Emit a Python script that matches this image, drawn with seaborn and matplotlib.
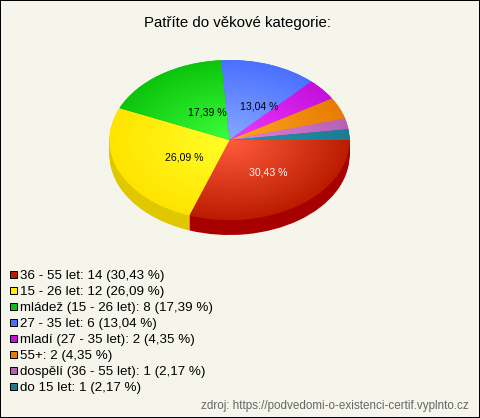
import matplotlib
matplotlib.use("Agg")
import matplotlib.pyplot as plt
from matplotlib.colors import LinearSegmentedColormap
from matplotlib.patches import Rectangle
import numpy as np
import seaborn as sns

labels = ["36 - 55 let", "15 - 26 let", "mládež (15 - 26 let)", "27 - 35 let",
          "mladí (27 - 35 let)", "55+", "dospělí (36 - 55 let)", "do 15 let"]
counts = [14, 12, 8, 6, 2, 2, 1, 1]
percents = ["30,43", "26,09", "17,39", "13,04", "4,35", "4,35", "2,17", "2,17"]

edge_colors = ["#bb1c00", "#ffe400", "#0cc40c", "#4a70ff", "#c410dc", "#e87c00", "#b860b4", "#1c7c94"]
centre_colors = ["#ff5c3c", "#ffff28", "#3cff3c", "#88a8ff", "#f038ff", "#ffa428", "#e084e0", "#2494ac"]
side_colors = ["#a80000", "#e0c800", "#0a9a0a", "#3858c8", "#9a0cb0", "#b86000", "#905090", "#146070"]
swatch_colors = ["#c01800", "#ffee00", "#10c010", "#4a70ff", "#c810d8", "#e87800", "#b860b0", "#1c7c90"]

sns.set_theme(style="white")
bg = "#f5f5ec"

W, H = 480, 418
CX, CY, RX, RY, DEPTH = 229.5, 140, 120, 80, 15

fig = plt.figure(figsize=(W / 100, H / 100), dpi=100, facecolor=bg)

# pie axes: data units are the unit circle, squashed to an ellipse
ax = fig.add_axes([0, 0, 1, 1])
for d in range(DEPTH, 0, -1):
    ax.pie(counts, colors=side_colors, startangle=0, counterclock=False,
           center=(0, -d / RY), wedgeprops={"linewidth": 0})
wedges = ax.pie(counts, colors=edge_colors, startangle=0, counterclock=False,
                wedgeprops={"linewidth": 0})[0]

xx, yy = np.meshgrid(np.linspace(-1, 1, 400), np.linspace(-1, 1, 400))
rr = np.clip(np.hypot(xx, yy), 0, 1)
for w, c0, c1 in zip(wedges, centre_colors, edge_colors):
    cmap = LinearSegmentedColormap.from_list("w", [c0, c1])
    im = ax.imshow(rr, cmap=cmap, extent=(-1, 1, -1, 1), origin="lower", aspect="auto", vmin=0, vmax=1, zorder=3)
    im.set_clip_path(w)

ax.set_aspect("auto")
ax.set_xlim(-CX / RX, (W - CX) / RX)
ax.set_ylim((CY - H) / RY, CY / RY)
ax.axis("off")

# overlay in pixel coordinates for texts and legend
ov = fig.add_axes([0, 0, 1, 1], facecolor="none")
ov.set_xlim(0, W)
ov.set_ylim(H, 0)
ov.axis("off")
ov.add_patch(Rectangle((0, 0), W, H, fill=False, edgecolor="black", linewidth=1.44, clip_on=True))

font = "Liberation Sans"
ov.text(238, 22.5, "Patříte do věkové kategorie:", ha="center", va="center", fontsize=10.8, family=font, color="black")

pct_pos = [(268.5, 172.5), (184.5, 157.5), (207, 112.5), (259, 106.5)]
pct_col = ["white", "black", "black", "black"]
for p, (x, y), c in zip(percents, pct_pos, pct_col):
    ov.text(x, y, p + " %", ha="center", va="center", fontsize=7.6, family=font, color=c)

for i, (lab, n, p) in enumerate(zip(labels, counts, percents)):
    y = 274.5 + 16 * i
    ov.add_patch(Rectangle((9.5, y - 3.5), 7, 7, facecolor=swatch_colors[i], edgecolor="black", linewidth=0.72))
    ov.text(20, y + 1, f"{lab}: {n} ({p} %)", ha="left", va="center", fontsize=9.65, family=font, color="black")

ov.text(469, 405.5, "zdroj: https://podvedomi-o-existenci-certif.vyplnto.cz", ha="right", va="center",
        fontsize=8.4, family=font, color="#666666")

fig.savefig("out.png", dpi=100, facecolor=bg)
